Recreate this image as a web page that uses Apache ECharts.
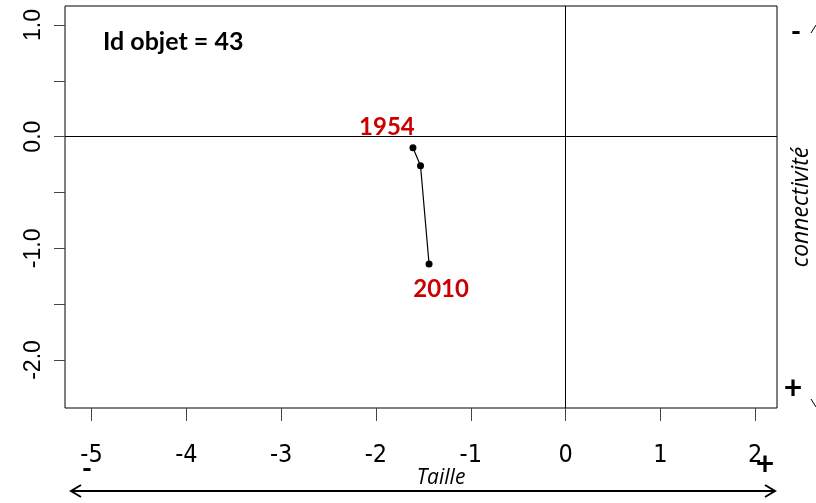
<!DOCTYPE html>
<html>
<head>
<meta charset="utf-8">
<script src="https://cdn.jsdelivr.net/npm/echarts@6/dist/echarts.min.js"></script>
<style>
html,body{margin:0;padding:0;background:#fff;}
#chart{width:816px;height:503px;}
</style>
</head>
<body>
<div id="chart"></div>
<script>
// Data
const years = ['1954', '', '2010'];
const taille = [-1.61, -1.53, -1.44];
const connectivite = [-0.10, -0.26, -1.14];
const xTicks = [-5, -4, -3, -2, -1, 0, 1, 2];
const yTicks = [-2, -1.5, -1, -0.5, 0, 0.5, 1];
const yLabels = [-2, -1, 0, 1];
const objectId = 43;

const chart = echarts.init(document.getElementById('chart'), null, {renderer: 'canvas'});

const points = taille.map((x, i) => ({
  value: [x, connectivite[i]],
  label: years[i] ? {
    show: true,
    formatter: years[i],
    position: i === 0 ? 'top' : 'bottom',
    offset: i === 0 ? [-26, 0] : [12, 5],
    color: '#cc0000',
    fontWeight: 'bold',
    fontSize: 24,
    fontFamily: 'Lato, "Open Sans", sans-serif'
  } : {show: false}
}));

const option = {
  backgroundColor: '#fff',
  animation: false,
  grid: {
    left: 65, top: 6, right: 39, bottom: 95,
    show: true, borderColor: '#000', borderWidth: 1, backgroundColor: 'transparent'
  },
  xAxis: {
    type: 'value', min: -5.28, max: 2.23,
    splitLine: {show: false},
    axisLine: {show: false, onZero: false},
    axisTick: {show: true, inside: false, length: 13, lineStyle: {color: '#444'}, customValues: xTicks},
    axisLabel: {
      customValues: xTicks, margin: 35, color: '#000', fontSize: 25,
      fontFamily: '"Liberation Sans Narrow", "DejaVu Sans Condensed", "Liberation Sans", Arial, sans-serif',
      formatter: v => String(v)
    }
  },
  yAxis: {
    type: 'value', min: -2.43, max: 1.17,
    splitLine: {show: false},
    axisLine: {show: false, onZero: false},
    axisTick: {show: true, inside: false, length: 11, lineStyle: {color: '#444'}, customValues: yTicks},
    axisLabel: {
      customValues: yLabels, rotate: 90, margin: 20, color: '#000', fontSize: 23,
      fontFamily: '"Liberation Sans", Arial, sans-serif',
      formatter: v => v.toFixed(1)
    }
  },
  series: [{
    type: 'line',
    data: points,
    symbol: 'circle',
    symbolSize: 7,
    itemStyle: {color: '#000'},
    lineStyle: {color: '#000', width: 1.2},
    markLine: {
      silent: true, symbol: 'none', label: {show: false},
      lineStyle: {color: '#000', width: 1, type: 'solid'},
      data: [{xAxis: 0}, {yAxis: 0}]
    }
  }],
  graphic: [
    {type: 'text', left: 103, top: 29, style: {text: 'Id objet = ' + objectId, fontSize: 25, fontWeight: 'bold', fill: '#000', fontFamily: 'Lato, "Open Sans", sans-serif'}},
    {type: 'text', x: 796, y: 32, style: {text: '-', fontSize: 28, fontWeight: 'bold', fill: '#000', align: 'center', verticalAlign: 'middle', fontFamily: 'Lato, sans-serif'}},
    {type: 'text', x: 793, y: 389, style: {text: '+', fontSize: 32, fontWeight: 'bold', fill: '#000', align: 'center', verticalAlign: 'middle', fontFamily: 'Lato, sans-serif'}},
    {type: 'text', x: 801, y: 207, rotation: Math.PI / 2, style: {text: 'connectivité', fontSize: 23, fontStyle: 'italic', fill: '#000', align: 'center', verticalAlign: 'middle', fontFamily: '"Open Sans", Lato, sans-serif'}},
    {type: 'text', x: 87, y: 469, style: {text: '-', fontSize: 28, fontWeight: 'bold', fill: '#000', align: 'center', verticalAlign: 'middle', fontFamily: 'Lato, sans-serif'}},
    {type: 'text', x: 765, y: 465, style: {text: '+', fontSize: 32, fontWeight: 'bold', fill: '#000', align: 'center', verticalAlign: 'middle', fontFamily: 'Lato, sans-serif'}},
    {type: 'text', x: 441, y: 478, style: {text: 'Taille', fontSize: 21, fontStyle: 'italic', fill: '#000', align: 'center', verticalAlign: 'middle', fontFamily: '"Open Sans", Lato, sans-serif'}},
    {type: 'line', shape: {x1: 72, y1: 491, x2: 774, y2: 491}, style: {stroke: '#000', lineWidth: 2}},
    {type: 'polyline', shape: {points: [[81, 485], [71, 491], [81, 497]]}, style: {stroke: '#000', lineWidth: 2, fill: null}},
    {type: 'polyline', shape: {points: [[765, 485], [775, 491], [765, 497]]}, style: {stroke: '#000', lineWidth: 2, fill: null}},
    {type: 'line', shape: {x1: 811, y1: 33, x2: 816, y2: 25}, style: {stroke: '#000', lineWidth: 1}},
    {type: 'line', shape: {x1: 811, y1: 399, x2: 816, y2: 407}, style: {stroke: '#000', lineWidth: 1}}
  ]
};
chart.setOption(option);
</script>
</body>
</html>
